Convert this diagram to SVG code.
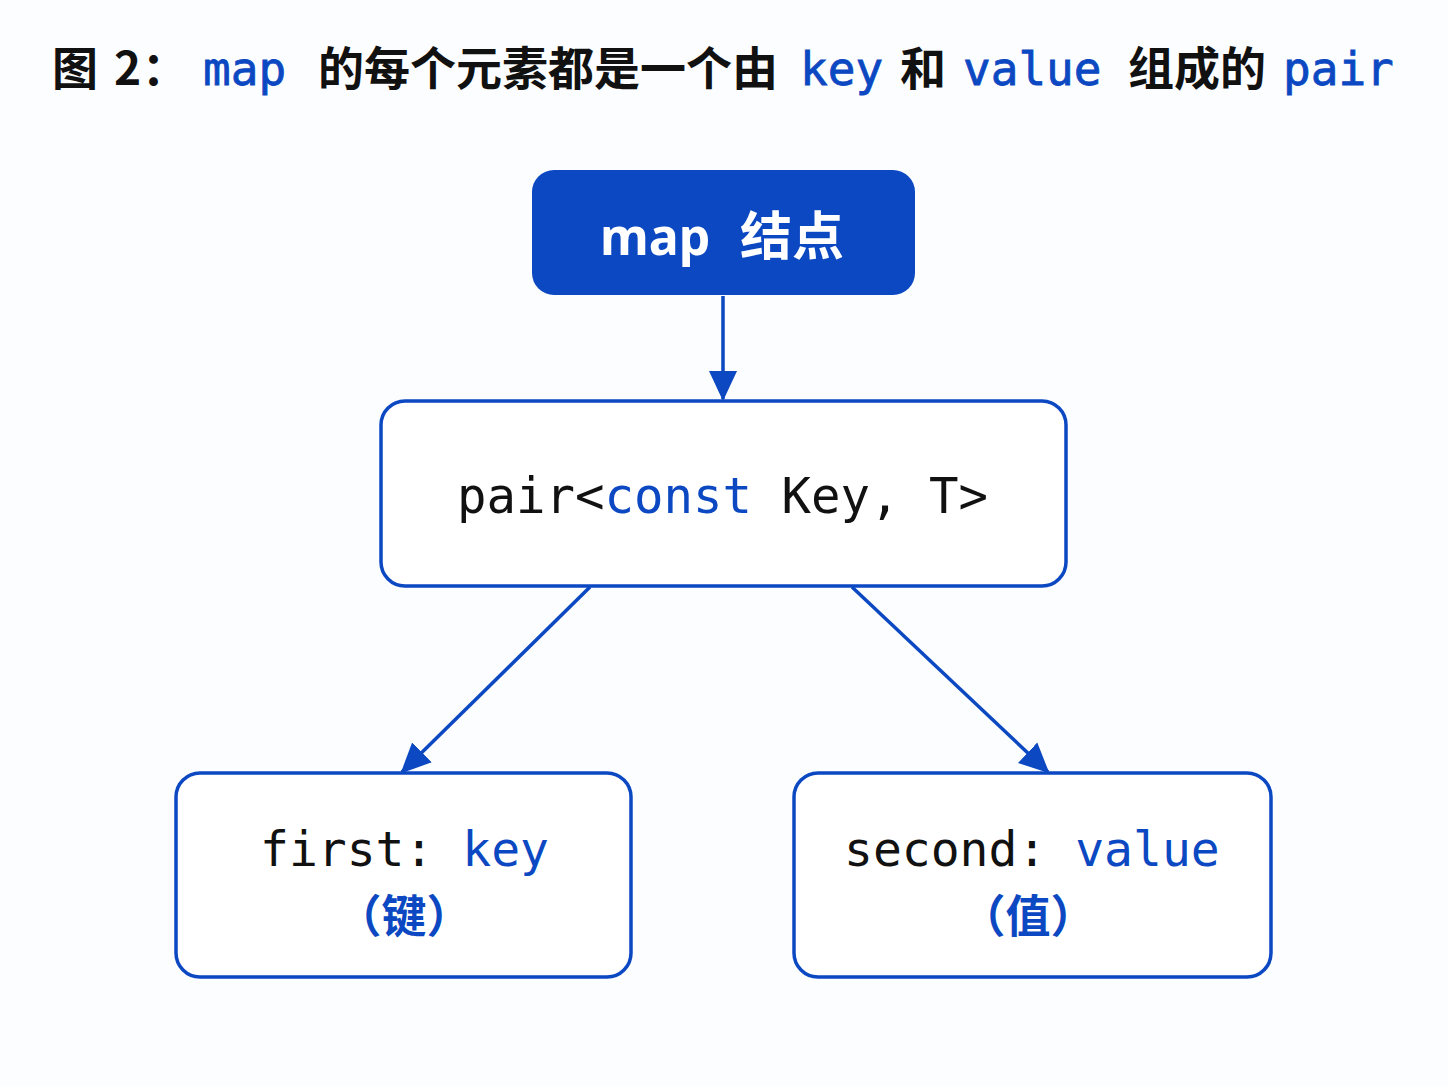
<svg xmlns="http://www.w3.org/2000/svg" width="1448" height="1086" viewBox="0 0 1448 1086">
<defs>
<style>
.cjk{font-family:"Noto Sans CJK SC","Noto Sans",sans-serif;font-weight:700;}
.mono{font-family:"DejaVu Sans Mono","Liberation Mono",monospace;}
.blue{fill:#0B48C2;}
.black{fill:#111111;}
.tb{stroke:#0B48C2;stroke-width:0.8;}
.box{fill:#FFFFFF;stroke:#0B48C2;stroke-width:3.5;}
.edge{stroke:#0B48C2;stroke-width:3.5;fill:none;}
</style>
<marker id="arrow" markerUnits="userSpaceOnUse" markerWidth="30" markerHeight="30" viewBox="0 0 30 30" refX="28" refY="15" orient="auto">
<path d="M0,1 L30,15 L0,29 Z" fill="#0B48C2"/>
</marker>
</defs>
<rect x="0" y="0" width="1448" height="1086" fill="#FCFDFE"/>
<g id="title" font-size="46">
<text x="52" y="85" class="cjk black">图 <tspan x="114">2</tspan><tspan x="142">：</tspan></text>
<text x="203" y="85" class="mono blue tb">map</text>
<text x="318" y="85" class="cjk black">的每个元素都是一个由</text>
<text x="800" y="85" class="mono blue tb">key</text>
<text x="900" y="85" class="cjk black">和</text>
<text x="963" y="85" class="mono blue tb">value</text>
<text x="1128" y="85" class="cjk black">组成的</text>
<text x="1283" y="85" class="mono blue tb">pair</text>
</g>
<g id="connectors">
<line class="edge" x1="723" y1="296" x2="723" y2="399" marker-end="url(#arrow)"/>
<line class="edge" x1="590" y1="587" x2="402" y2="772" marker-end="url(#arrow)"/>
<line class="edge" x1="852" y1="587" x2="1048" y2="772" marker-end="url(#arrow)"/>
</g>
<g id="node-map">
<rect x="532" y="170" width="383" height="125" rx="22" fill="#0B48C2"/>
<text x="600" y="255" font-size="50" fill="#FFFFFF" font-family="'Noto Sans','Noto Sans CJK SC',sans-serif" font-weight="700">map</text>
<text x="740" y="255" font-size="52" fill="#FFFFFF" class="cjk">结点</text>
</g>
<g id="node-pair">
<rect class="box" x="381" y="401" width="685" height="185" rx="24"/>
<text x="457" y="513" font-size="49" class="mono black">pair&lt;<tspan class="blue">const</tspan> Key, T&gt;</text>
</g>
<g id="node-first">
<rect class="box" x="176" y="773" width="455" height="204" rx="24"/>
<text x="260" y="866" font-size="48" class="mono black">first: <tspan class="blue">key</tspan></text>
<text x="404" y="933" font-size="45" text-anchor="middle" class="cjk blue">（键）</text>
</g>
<g id="node-second">
<rect class="box" x="794" y="773" width="477" height="204" rx="24"/>
<text x="844" y="866" font-size="48" class="mono black">second: <tspan class="blue">value</tspan></text>
<text x="1028" y="933" font-size="45" text-anchor="middle" class="cjk blue">（值）</text>
</g>
</svg>
